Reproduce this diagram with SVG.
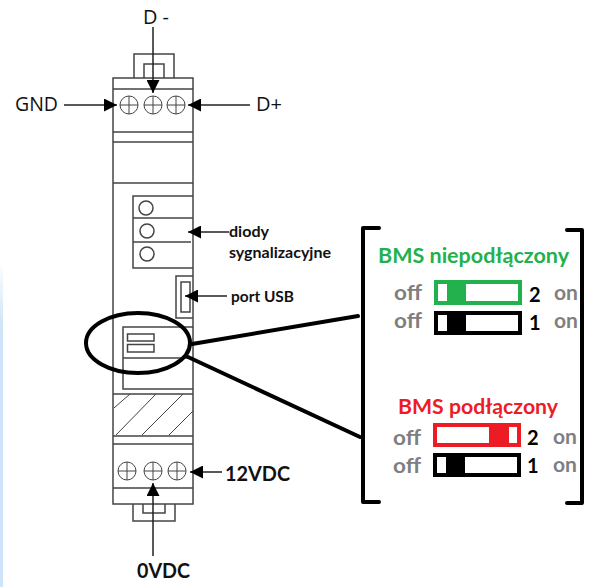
<svg xmlns="http://www.w3.org/2000/svg" width="592" height="587" viewBox="0 0 592 587">
<defs>
<marker id="ah" viewBox="0 0 13 13" refX="13" refY="6.5" markerWidth="13" markerHeight="13" markerUnits="userSpaceOnUse" orient="auto"><path d="M0 0L13 6.5L0 13Z" fill="#000"/></marker>
<linearGradient id="edge" x1="0" y1="0" x2="0" y2="1"><stop offset="0" stop-color="#fff"/><stop offset="0.12" stop-color="#e3effa"/><stop offset="0.2" stop-color="#cfe4f8"/><stop offset="1" stop-color="#cfe4f8"/></linearGradient>
</defs>
<style>
.l{fill:none;stroke:#444;stroke-width:1.5}
.s{fill:none;stroke:#444;stroke-width:1}
.a{fill:none;stroke:#222;stroke-width:1.5;marker-end:url(#ah)}
.k{fill:none;stroke:#000;stroke-width:4;stroke-linecap:round;stroke-linejoin:round}
text{font-family:Lato,"Open Sans",sans-serif;font-weight:700;fill:#111}
.t{font-family:"Open Sans","Noto Sans",sans-serif;font-weight:400;fill:#111}
.g{fill:#7f7f7f;font-size:20px}
.n{fill:#000;font-size:20px}
</style>
<rect width="592" height="587" fill="#fff"/>
<rect x="0" y="260" width="3" height="327" fill="url(#edge)"/>
<g id="device">
<rect class="l" x="113" y="78" width="80" height="426"/>
<path class="l" d="M134 78V54H174V78M144 78V64H164V78"/>
<path class="l" d="M113 89H193M113 132H193M113 142H193M113 183H193M113 394H193M113 436H193M113 444H193M113 488H193"/>
<path class="l" d="M133 504V521H175V504M143 504V513H165V504"/>
<path class="s" d="M114 408L130 394M116 435L156 394M142 435L183 394M169 435L193 411"/>
</g>
<g id="screws-top">
<g class="s"><circle cx="129" cy="105" r="9"/><path d="M120 105H138M129 96V114"/><circle cx="153" cy="105" r="9"/><path d="M144 105H162M153 96V114"/><circle cx="176" cy="105" r="9"/><path d="M167 105H185M176 96V114"/></g>
</g>
<g id="screws-bottom">
<g class="s"><circle cx="127" cy="471" r="9"/><path d="M118 471H136M127 462V480"/><circle cx="153" cy="471" r="9"/><path d="M144 471H162M153 462V480"/><circle cx="177" cy="471" r="9"/><path d="M168 471H186M177 462V480"/></g>
</g>
<g id="leds">
<path class="l" d="M193 196H133V268H193M133 218H193M133 242H191"/>
<circle class="l" cx="146" cy="208" r="7"/><circle class="l" cx="147" cy="231" r="7"/><circle class="l" cx="147" cy="254" r="7"/>
</g>
<g id="usb">
<path class="l" d="M193 276H176V318H193"/>
<rect class="l" x="181" y="282" width="9" height="30"/>
</g>
<g id="dip-block">
<path class="l" d="M193 327H123V389H193M123 358H193"/>
<rect class="l" x="127.500" y="334" width="26.500" height="7"/>
<rect class="l" x="127.500" y="344.500" width="26.500" height="7.500"/>
</g>
<g id="connectors">
<path class="a" d="M64 105H117"/>
<path class="a" d="M250 105H188"/>
<path class="a" d="M153 27V93"/>
<path class="a" d="M229 232H188"/>
<path class="a" d="M227 296H185"/>
<path class="a" d="M222 472H190"/>
<path class="a" d="M153 556V483"/>
<ellipse class="k" cx="138" cy="343" rx="52" ry="30"/>
<path class="k" d="M192 344L358 316M188 357L360 437"/>
</g>
<g id="brackets">
<path class="k" d="M379 228H363V502H379"/>
<path class="k" d="M567 230H582V503H567"/>
</g>
<g id="labels">
<text class="t" x="143" y="24" font-size="20" textLength="26" lengthAdjust="spacingAndGlyphs">D -</text>
<text class="t" x="15" y="111" font-size="20" textLength="43" lengthAdjust="spacingAndGlyphs">GND</text>
<text class="t" x="256" y="111" font-size="20" textLength="26" lengthAdjust="spacingAndGlyphs">D+</text>
<text x="229" y="237" font-size="16" textLength="40" lengthAdjust="spacingAndGlyphs">diody</text>
<text x="229" y="258" font-size="16" textLength="102" lengthAdjust="spacingAndGlyphs">sygnalizacyjne</text>
<text x="231" y="302" font-size="16" textLength="63" lengthAdjust="spacingAndGlyphs">port USB</text>
<text x="225" y="481" font-size="20" textLength="65" lengthAdjust="spacingAndGlyphs">12VDC</text>
<text x="137" y="578" font-size="20" textLength="53" lengthAdjust="spacingAndGlyphs">0VDC</text>
</g>
<g id="state-off">
<text x="378" y="263" font-size="21" style="fill:#22b14c" textLength="191" lengthAdjust="spacingAndGlyphs">BMS niepodłączony</text>
<text class="g" x="394" y="300" textLength="28" lengthAdjust="spacingAndGlyphs">off</text>
<rect x="436" y="282" width="84" height="21" fill="#fff" stroke="#22b14c" stroke-width="4"/>
<rect x="447" y="282" width="19" height="21" fill="#22b14c"/>
<text class="n" x="529" y="302">2</text>
<text class="g" x="554" y="300" textLength="24" lengthAdjust="spacingAndGlyphs">on</text>
<text class="g" x="394" y="328" textLength="28" lengthAdjust="spacingAndGlyphs">off</text>
<rect x="436" y="313" width="84" height="20" fill="#fff" stroke="#000" stroke-width="4"/>
<rect x="447" y="313" width="19" height="20" fill="#000"/>
<text class="n" x="529" y="330">1</text>
<text class="g" x="554" y="328" textLength="24" lengthAdjust="spacingAndGlyphs">on</text>
</g>
<g id="state-on">
<text x="398" y="414" font-size="21" style="fill:#ed1c24" textLength="160" lengthAdjust="spacingAndGlyphs">BMS podłączony</text>
<text class="g" x="393" y="445" textLength="28" lengthAdjust="spacingAndGlyphs">off</text>
<rect x="435" y="425" width="84" height="20" fill="#fff" stroke="#ed1c24" stroke-width="4"/>
<rect x="489" y="425" width="20" height="20" fill="#ed1c24"/>
<text class="n" x="527" y="445">2</text>
<text class="g" x="553" y="444" textLength="24" lengthAdjust="spacingAndGlyphs">on</text>
<text class="g" x="393" y="473" textLength="28" lengthAdjust="spacingAndGlyphs">off</text>
<rect x="435" y="455" width="84" height="20" fill="#fff" stroke="#000" stroke-width="4"/>
<rect x="446" y="455" width="19" height="20" fill="#000"/>
<text class="n" x="527" y="473">1</text>
<text class="g" x="553" y="472" textLength="24" lengthAdjust="spacingAndGlyphs">on</text>
</g>
</svg>
